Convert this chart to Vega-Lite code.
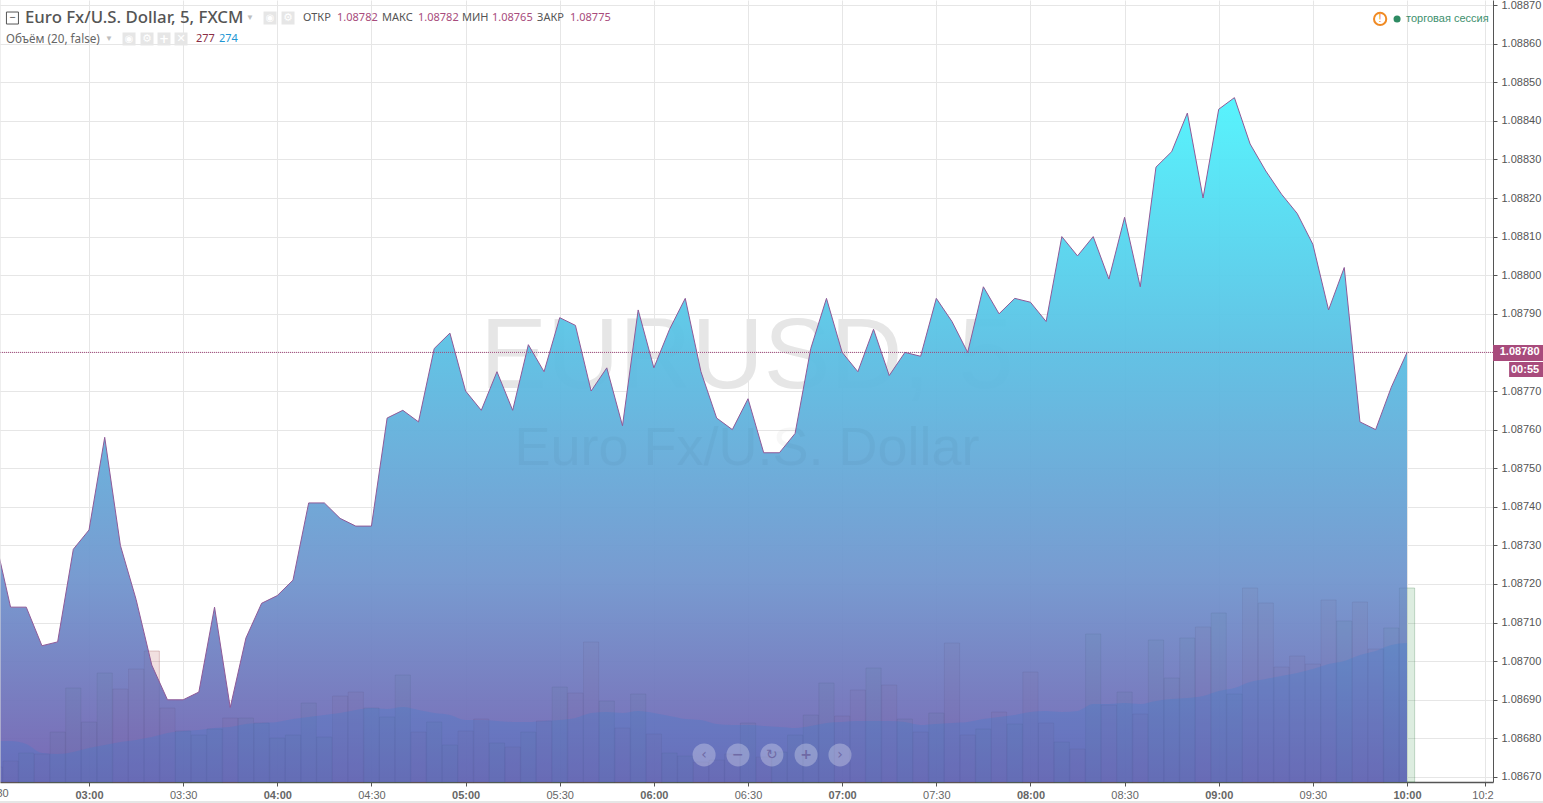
{
  "$schema": "https://vega.github.io/schema/vega-lite/v6.json",
  "autosize": {"type": "none"},
  "padding": {"left": 0, "top": 0, "right": 50, "bottom": 21},
  "width": 1493,
  "height": 782,
  "background": "#ffffff",
  "config": {"view": {"stroke": null}, "text": {"font": "Noto Sans", "fontSize": 11, "align": "left", "baseline": "middle"}},
  "data": {"values": [{}]},
  "datasets": {
    "bars": [
      {"t": "2016-03-15T02:30:00Z", "price": 1.08732, "volume": 15, "volume_ma": 41, "dir": "down"},
      {"t": "2016-03-15T02:35:00Z", "price": 1.08714, "volume": 21, "volume_ma": 41, "dir": "down"},
      {"t": "2016-03-15T02:40:00Z", "price": 1.08714, "volume": 29, "volume_ma": 38, "dir": "up"},
      {"t": "2016-03-15T02:45:00Z", "price": 1.08704, "volume": 28, "volume_ma": 29, "dir": "down"},
      {"t": "2016-03-15T02:50:00Z", "price": 1.08705, "volume": 50, "volume_ma": 28, "dir": "up"},
      {"t": "2016-03-15T02:55:00Z", "price": 1.08729, "volume": 94, "volume_ma": 30, "dir": "up"},
      {"t": "2016-03-15T03:00:00Z", "price": 1.08734, "volume": 60, "volume_ma": 34, "dir": "up"},
      {"t": "2016-03-15T03:05:00Z", "price": 1.08758, "volume": 109, "volume_ma": 37, "dir": "up"},
      {"t": "2016-03-15T03:10:00Z", "price": 1.0873, "volume": 93, "volume_ma": 40, "dir": "down"},
      {"t": "2016-03-15T03:15:00Z", "price": 1.08716, "volume": 113, "volume_ma": 42, "dir": "down"},
      {"t": "2016-03-15T03:20:00Z", "price": 1.08699, "volume": 131, "volume_ma": 45, "dir": "down"},
      {"t": "2016-03-15T03:25:00Z", "price": 1.0869, "volume": 74, "volume_ma": 49, "dir": "down"},
      {"t": "2016-03-15T03:30:00Z", "price": 1.0869, "volume": 51, "volume_ma": 51, "dir": "up"},
      {"t": "2016-03-15T03:35:00Z", "price": 1.08692, "volume": 47, "volume_ma": 52, "dir": "up"},
      {"t": "2016-03-15T03:40:00Z", "price": 1.08714, "volume": 53, "volume_ma": 54, "dir": "up"},
      {"t": "2016-03-15T03:45:00Z", "price": 1.08688, "volume": 64, "volume_ma": 55, "dir": "down"},
      {"t": "2016-03-15T03:50:00Z", "price": 1.08706, "volume": 64, "volume_ma": 58, "dir": "up"},
      {"t": "2016-03-15T03:55:00Z", "price": 1.08715, "volume": 59, "volume_ma": 59, "dir": "up"},
      {"t": "2016-03-15T04:00:00Z", "price": 1.08717, "volume": 44, "volume_ma": 60, "dir": "up"},
      {"t": "2016-03-15T04:05:00Z", "price": 1.08721, "volume": 47, "volume_ma": 63, "dir": "up"},
      {"t": "2016-03-15T04:10:00Z", "price": 1.08741, "volume": 79, "volume_ma": 65, "dir": "up"},
      {"t": "2016-03-15T04:15:00Z", "price": 1.08741, "volume": 45, "volume_ma": 67, "dir": "up"},
      {"t": "2016-03-15T04:20:00Z", "price": 1.08737, "volume": 86, "volume_ma": 69, "dir": "down"},
      {"t": "2016-03-15T04:25:00Z", "price": 1.08735, "volume": 90, "volume_ma": 72, "dir": "down"},
      {"t": "2016-03-15T04:30:00Z", "price": 1.08735, "volume": 74, "volume_ma": 74, "dir": "up"},
      {"t": "2016-03-15T04:35:00Z", "price": 1.08763, "volume": 65, "volume_ma": 73, "dir": "up"},
      {"t": "2016-03-15T04:40:00Z", "price": 1.08765, "volume": 107, "volume_ma": 75, "dir": "up"},
      {"t": "2016-03-15T04:45:00Z", "price": 1.08762, "volume": 50, "volume_ma": 72, "dir": "down"},
      {"t": "2016-03-15T04:50:00Z", "price": 1.08781, "volume": 60, "volume_ma": 69, "dir": "up"},
      {"t": "2016-03-15T04:55:00Z", "price": 1.08785, "volume": 37, "volume_ma": 67, "dir": "up"},
      {"t": "2016-03-15T05:00:00Z", "price": 1.0877, "volume": 51, "volume_ma": 62, "dir": "down"},
      {"t": "2016-03-15T05:05:00Z", "price": 1.08765, "volume": 63, "volume_ma": 62, "dir": "down"},
      {"t": "2016-03-15T05:10:00Z", "price": 1.08775, "volume": 39, "volume_ma": 61, "dir": "up"},
      {"t": "2016-03-15T05:15:00Z", "price": 1.08765, "volume": 35, "volume_ma": 60, "dir": "down"},
      {"t": "2016-03-15T05:20:00Z", "price": 1.08782, "volume": 50, "volume_ma": 60, "dir": "up"},
      {"t": "2016-03-15T05:25:00Z", "price": 1.08775, "volume": 61, "volume_ma": 61, "dir": "down"},
      {"t": "2016-03-15T05:30:00Z", "price": 1.08789, "volume": 95, "volume_ma": 62, "dir": "up"},
      {"t": "2016-03-15T05:35:00Z", "price": 1.08787, "volume": 89, "volume_ma": 64, "dir": "down"},
      {"t": "2016-03-15T05:40:00Z", "price": 1.0877, "volume": 140, "volume_ma": 69, "dir": "down"},
      {"t": "2016-03-15T05:45:00Z", "price": 1.08776, "volume": 81, "volume_ma": 70, "dir": "up"},
      {"t": "2016-03-15T05:50:00Z", "price": 1.08761, "volume": 54, "volume_ma": 69, "dir": "down"},
      {"t": "2016-03-15T05:55:00Z", "price": 1.08791, "volume": 88, "volume_ma": 71, "dir": "up"},
      {"t": "2016-03-15T06:00:00Z", "price": 1.08776, "volume": 48, "volume_ma": 69, "dir": "down"},
      {"t": "2016-03-15T06:05:00Z", "price": 1.08786, "volume": 29, "volume_ma": 66, "dir": "up"},
      {"t": "2016-03-15T06:10:00Z", "price": 1.08794, "volume": 26, "volume_ma": 63, "dir": "up"},
      {"t": "2016-03-15T06:15:00Z", "price": 1.08775, "volume": 20, "volume_ma": 62, "dir": "down"},
      {"t": "2016-03-15T06:20:00Z", "price": 1.08763, "volume": 22, "volume_ma": 58, "dir": "down"},
      {"t": "2016-03-15T06:25:00Z", "price": 1.0876, "volume": 28, "volume_ma": 57, "dir": "down"},
      {"t": "2016-03-15T06:30:00Z", "price": 1.08768, "volume": 59, "volume_ma": 57, "dir": "up"},
      {"t": "2016-03-15T06:35:00Z", "price": 1.08754, "volume": 25, "volume_ma": 56, "dir": "down"},
      {"t": "2016-03-15T06:40:00Z", "price": 1.08754, "volume": 30, "volume_ma": 55, "dir": "up"},
      {"t": "2016-03-15T06:45:00Z", "price": 1.08759, "volume": 47, "volume_ma": 54, "dir": "up"},
      {"t": "2016-03-15T06:50:00Z", "price": 1.08781, "volume": 67, "volume_ma": 56, "dir": "up"},
      {"t": "2016-03-15T06:55:00Z", "price": 1.08794, "volume": 99, "volume_ma": 59, "dir": "up"},
      {"t": "2016-03-15T07:00:00Z", "price": 1.0878, "volume": 66, "volume_ma": 60, "dir": "down"},
      {"t": "2016-03-15T07:05:00Z", "price": 1.08775, "volume": 92, "volume_ma": 61, "dir": "down"},
      {"t": "2016-03-15T07:10:00Z", "price": 1.08786, "volume": 114, "volume_ma": 61, "dir": "up"},
      {"t": "2016-03-15T07:15:00Z", "price": 1.08774, "volume": 97, "volume_ma": 61, "dir": "down"},
      {"t": "2016-03-15T07:20:00Z", "price": 1.0878, "volume": 63, "volume_ma": 60, "dir": "up"},
      {"t": "2016-03-15T07:25:00Z", "price": 1.08779, "volume": 50, "volume_ma": 57, "dir": "down"},
      {"t": "2016-03-15T07:30:00Z", "price": 1.08794, "volume": 69, "volume_ma": 58, "dir": "up"},
      {"t": "2016-03-15T07:35:00Z", "price": 1.08788, "volume": 139, "volume_ma": 59, "dir": "down"},
      {"t": "2016-03-15T07:40:00Z", "price": 1.0878, "volume": 47, "volume_ma": 60, "dir": "down"},
      {"t": "2016-03-15T07:45:00Z", "price": 1.08797, "volume": 53, "volume_ma": 63, "dir": "up"},
      {"t": "2016-03-15T07:50:00Z", "price": 1.0879, "volume": 70, "volume_ma": 65, "dir": "down"},
      {"t": "2016-03-15T07:55:00Z", "price": 1.08794, "volume": 58, "volume_ma": 67, "dir": "up"},
      {"t": "2016-03-15T08:00:00Z", "price": 1.08793, "volume": 110, "volume_ma": 70, "dir": "down"},
      {"t": "2016-03-15T08:05:00Z", "price": 1.08788, "volume": 59, "volume_ma": 71, "dir": "down"},
      {"t": "2016-03-15T08:10:00Z", "price": 1.0881, "volume": 40, "volume_ma": 70, "dir": "up"},
      {"t": "2016-03-15T08:15:00Z", "price": 1.08805, "volume": 33, "volume_ma": 71, "dir": "down"},
      {"t": "2016-03-15T08:20:00Z", "price": 1.0881, "volume": 148, "volume_ma": 78, "dir": "up"},
      {"t": "2016-03-15T08:25:00Z", "price": 1.08799, "volume": 77, "volume_ma": 78, "dir": "down"},
      {"t": "2016-03-15T08:30:00Z", "price": 1.08815, "volume": 90, "volume_ma": 79, "dir": "up"},
      {"t": "2016-03-15T08:35:00Z", "price": 1.08797, "volume": 68, "volume_ma": 78, "dir": "down"},
      {"t": "2016-03-15T08:40:00Z", "price": 1.08828, "volume": 142, "volume_ma": 81, "dir": "up"},
      {"t": "2016-03-15T08:45:00Z", "price": 1.08832, "volume": 104, "volume_ma": 83, "dir": "up"},
      {"t": "2016-03-15T08:50:00Z", "price": 1.08842, "volume": 144, "volume_ma": 84, "dir": "up"},
      {"t": "2016-03-15T08:55:00Z", "price": 1.0882, "volume": 155, "volume_ma": 86, "dir": "down"},
      {"t": "2016-03-15T09:00:00Z", "price": 1.08843, "volume": 169, "volume_ma": 91, "dir": "up"},
      {"t": "2016-03-15T09:05:00Z", "price": 1.08846, "volume": 88, "volume_ma": 94, "dir": "up"},
      {"t": "2016-03-15T09:10:00Z", "price": 1.08834, "volume": 194, "volume_ma": 100, "dir": "down"},
      {"t": "2016-03-15T09:15:00Z", "price": 1.08827, "volume": 179, "volume_ma": 103, "dir": "down"},
      {"t": "2016-03-15T09:20:00Z", "price": 1.08821, "volume": 115, "volume_ma": 106, "dir": "down"},
      {"t": "2016-03-15T09:25:00Z", "price": 1.08816, "volume": 126, "volume_ma": 109, "dir": "down"},
      {"t": "2016-03-15T09:30:00Z", "price": 1.08808, "volume": 118, "volume_ma": 113, "dir": "down"},
      {"t": "2016-03-15T09:35:00Z", "price": 1.08791, "volume": 182, "volume_ma": 118, "dir": "down"},
      {"t": "2016-03-15T09:40:00Z", "price": 1.08802, "volume": 161, "volume_ma": 121, "dir": "up"},
      {"t": "2016-03-15T09:45:00Z", "price": 1.08762, "volume": 180, "volume_ma": 127, "dir": "down"},
      {"t": "2016-03-15T09:50:00Z", "price": 1.0876, "volume": 133, "volume_ma": 131, "dir": "down"},
      {"t": "2016-03-15T09:55:00Z", "price": 1.08771, "volume": 154, "volume_ma": 137, "dir": "up"},
      {"t": "2016-03-15T10:00:00Z", "price": 1.0878, "volume": 194, "volume_ma": 139, "dir": "up"}
    ]
  },
  "resolve": {"scale": {"y": "independent"}},
  "layer": [
    {
      "mark": {"type": "text", "align": "center", "font": "Liberation Sans", "fontSize": 100, "color": "#e6e6e6", "text": "EURUSD, 5"},
      "encoding": {
        "x": {"datum": 1458023381000, "type": "temporal", "scale": {"type": "utc", "nice": false, "padding": 0, "domain": [1458009098000, 1458037644000]}, "axis": {
          "title": null, "format": "%H:%M", "tickCount": 30, "values": [1458010800000, 1458012600000, 1458014400000, 1458016200000, 1458018000000, 1458019800000, 1458021600000, 1458023400000, 1458025200000, 1458027000000, 1458028800000, 1458030600000, 1458032400000, 1458034200000, 1458036000000, 1458037500000],
          "labelExpr": "utcminutes(datum.value) == 25 ? '10:2' : utcFormat(datum.value, '%H:%M')",
          "labelFont": "Liberation Sans", "labelFontSize": 11, "labelColor": "#666666", "labelFlush": false, "labelOverlap": false, "labelAngle": 0, "labelPadding": 3,
          "labelOffset": {"condition": {"test": "utcminutes(datum.value) == 25", "value": -3}, "value": 0},
          "labelFontWeight": {"condition": {"test": "utcminutes(datum.value) == 0", "value": "bold"}, "value": "normal"},
          "tickColor": "#555555", "tickSize": 4, "domainColor": "#555555", "domainWidth": 1.5, "grid": true, "gridColor": "#e6e6e6"
        }},
        "y": {"datum": 1.0877855, "type": "quantitative", "scale": {"nice": false, "zero": false, "domain": [1.086687, 1.088713]}, "axis": {
          "orient": "right", "title": null, "format": ".5f", "tickCount": 30, "values": [1.0867, 1.0868, 1.0869, 1.087, 1.0871, 1.0872, 1.0873, 1.0874, 1.0875, 1.0876, 1.0877, 1.0878, 1.0879, 1.088, 1.0881, 1.0882, 1.0883, 1.0884, 1.0885, 1.0886, 1.0887],
          "labelFont": "Liberation Sans", "labelFontSize": 11, "labelColor": "#555555", "labelPadding": 4, "labelOverlap": false, "labelFlush": false,
          "tickColor": "#555555", "tickSize": 4, "domainColor": "#555555", "grid": true, "gridColor": "#e6e6e6"
        }}
      }
    },
    {
      "data": {"name": "bars"},
      "mark": {"type": "bar", "size": 15.2, "fillOpacity": 0.14, "strokeOpacity": 0.22, "strokeWidth": 1},
      "encoding": {
        "x": {"field": "t", "type": "temporal"},
        "y": {"field": "volume", "type": "quantitative", "scale": {"nice": false, "domain": [0, 782]}, "axis": null},
        "color": {"field": "dir", "type": "nominal", "scale": {"domain": ["up", "down"], "range": ["#3f9a4d", "#b4504e"]}, "legend": null},
        "stroke": {"field": "dir", "type": "nominal", "scale": {"domain": ["up", "down"], "range": ["#3f9a4d", "#b4504e"]}, "legend": null}
      }
    },
    {
      "layer": [
        {
          "data": {"name": "bars"},
          "mark": {"type": "area", "opacity": 0.95, "fill": {"gradient": "linear", "x1": 0, "y1": 0, "x2": 0, "y2": 1, "stops": [{"offset": 0, "color": "#4ff3fd"}, {"offset": 0.37, "color": "#5bbfe3"}, {"offset": 0.7, "color": "#7196ce"}, {"offset": 1, "color": "#7260b0"}]}},
          "encoding": {
            "x": {"field": "t", "type": "temporal"},
            "y": {"field": "price", "type": "quantitative", "scale": {"nice": false, "zero": false, "domain": [1.086687, 1.088713]}, "axis": null},
            "y2": {"datum": 1.086687}
          }
        },
        {
          "mark": {"type": "text", "align": "center", "font": "Liberation Sans", "fontSize": 54, "color": "#000000", "opacity": 0.028, "text": "Euro Fx/U.S. Dollar"},
          "encoding": {"x": {"datum": 1458023381000, "type": "temporal"}, "y": {"datum": 1.08755, "type": "quantitative"}}
        }
      ]
    },
    {
      "data": {"name": "bars"},
      "layer": [
        {
          "mark": {"type": "bar", "size": 15.2, "fillOpacity": 0.035, "stroke": "#444466", "strokeOpacity": 0.07, "strokeWidth": 1},
          "encoding": {
            "x": {"field": "t", "type": "temporal"},
            "y": {"field": "volume", "type": "quantitative", "scale": {"nice": false, "domain": [0, 782]}, "axis": null},
            "color": {"field": "dir", "type": "nominal", "scale": {"domain": ["up", "down"], "range": ["#2b6a55", "#a0505a"]}, "legend": null}
          }
        },
        {
          "mark": {"type": "area", "interpolate": "monotone", "color": "#2f80d2", "opacity": 0.22},
          "encoding": {
            "x": {"field": "t", "type": "temporal"},
            "y": {"field": "volume_ma", "type": "quantitative", "scale": {"nice": false, "domain": [0, 782]}, "axis": null}
          }
        }
      ]
    },
    {
      "layer": [
        {
          "data": {"name": "bars"},
          "mark": {"type": "line", "color": "#8f5a98", "strokeWidth": 1},
          "encoding": {
            "x": {"field": "t", "type": "temporal"},
            "y": {"field": "price", "type": "quantitative", "scale": {"nice": false, "zero": false, "domain": [1.086687, 1.088713]}, "axis": null}
          }
        },
        {
          "mark": {"type": "rule", "color": "#a3487c", "strokeDash": [1, 1], "strokeWidth": 1},
          "encoding": {"y": {"datum": 1.0878, "type": "quantitative"}}
        },
        {
          "mark": {"type": "rule", "color": "#dddddd", "strokeWidth": 1},
          "encoding": {"x": {"datum": 1458009098000, "type": "temporal"}}
        },
        {
          "mark": {"type": "rule", "color": "#e6e6e6", "strokeWidth": 2},
          "encoding": {"x": {"datum": 1458009098000, "type": "temporal"}, "x2": {"datum": 1458038602000}, "y": {"datum": 1.0866352, "type": "quantitative"}}
        },
        {
          "mark": {"type": "text", "align": "center", "font": "Liberation Sans", "color": "#666666", "text": "02:30"},
          "encoding": {"x": {"datum": 1458009000000, "type": "temporal"}, "y": {"datum": 1.086656, "type": "quantitative"}}
        },
        {
          "mark": {"type": "rect", "color": "#a84b7c"},
          "encoding": {"x": {"datum": 1458037644000, "type": "temporal"}, "x2": {"datum": 1458038602000}, "y": {"datum": 1.0878192, "type": "quantitative"}, "y2": {"datum": 1.0877777}}
        },
        {
          "mark": {"type": "rect", "color": "#a84b7c"},
          "encoding": {"x": {"datum": 1458037952000, "type": "temporal"}, "x2": {"datum": 1458038602000}, "y": {"datum": 1.0877751, "type": "quantitative"}, "y2": {"datum": 1.0877363}}
        },
        {
          "mark": {"type": "text", "align": "center", "font": "Liberation Sans", "fontWeight": "bold", "color": "#ffffff", "text": "1.08780"},
          "encoding": {"x": {"datum": 1458038153000, "type": "temporal"}, "y": {"datum": 1.0878, "type": "quantitative"}}
        },
        {
          "mark": {"type": "text", "align": "center", "font": "Liberation Sans", "fontWeight": "bold", "color": "#ffffff", "text": "00:55"},
          "encoding": {"x": {"datum": 1458038257000, "type": "temporal"}, "y": {"datum": 1.0877544, "type": "quantitative"}}
        },
        {
          "mark": {"type": "point", "shape": "square", "size": 144, "stroke": "#555555", "strokeWidth": 1, "filled": false, "opacity": 1},
          "encoding": {"x": {"datum": 1458009336000, "type": "temporal"}, "y": {"datum": 1.0886663, "type": "quantitative"}}
        },
        {
          "mark": {"type": "text", "align": "center", "color": "#555555", "text": "−"},
          "encoding": {"x": {"datum": 1458009336000, "type": "temporal"}, "y": {"datum": 1.0886663, "type": "quantitative"}}
        },
        {
          "mark": {"type": "text", "fontSize": 16.8, "fontWeight": 500, "color": "#555555", "text": "Euro Fx/U.S. Dollar, 5, FXCM"},
          "encoding": {"x": {"datum": 1458009576000, "type": "temporal"}, "y": {"datum": 1.0886663, "type": "quantitative"}}
        },
        {
          "mark": {"type": "text", "align": "center", "fontSize": 8, "color": "#bdbdbd", "text": "▼"},
          "encoding": {"x": {"datum": 1458013878000, "type": "temporal"}, "y": {"datum": 1.0886663, "type": "quantitative"}}
        },
        {
          "mark": {"type": "point", "shape": "square", "size": 169, "filled": true, "color": "#e6e6e6", "opacity": 1},
          "encoding": {"x": {"datum": 1458014261000, "type": "temporal"}, "y": {"datum": 1.0886663, "type": "quantitative"}}
        },
        {
          "mark": {"type": "text", "align": "center", "font": "DejaVu Sans", "fontSize": 10, "color": "#ffffff", "text": "◉"},
          "encoding": {"x": {"datum": 1458014261000, "type": "temporal"}, "y": {"datum": 1.0886663, "type": "quantitative"}}
        },
        {
          "mark": {"type": "point", "shape": "square", "size": 169, "filled": true, "color": "#e6e6e6", "opacity": 1},
          "encoding": {"x": {"datum": 1458014605000, "type": "temporal"}, "y": {"datum": 1.0886663, "type": "quantitative"}}
        },
        {
          "mark": {"type": "text", "align": "center", "font": "DejaVu Sans", "fontSize": 11, "color": "#ffffff", "text": "⚙"},
          "encoding": {"x": {"datum": 1458014605000, "type": "temporal"}, "y": {"datum": 1.0886663, "type": "quantitative"}}
        },
        {"mark": {"type": "text", "color": "#555555", "text": "ОТКР"}, "encoding": {"x": {"datum": 1458014892000, "type": "temporal"}, "y": {"datum": 1.0886663, "type": "quantitative"}}},
        {"mark": {"type": "text", "color": "#a84b7c", "text": "1.08782"}, "encoding": {"x": {"datum": 1458015542000, "type": "temporal"}, "y": {"datum": 1.0886663, "type": "quantitative"}}},
        {"mark": {"type": "text", "color": "#555555", "text": "МАКС"}, "encoding": {"x": {"datum": 1458016402000, "type": "temporal"}, "y": {"datum": 1.0886663, "type": "quantitative"}}},
        {"mark": {"type": "text", "color": "#a84b7c", "text": "1.08782"}, "encoding": {"x": {"datum": 1458017090000, "type": "temporal"}, "y": {"datum": 1.0886663, "type": "quantitative"}}},
        {"mark": {"type": "text", "color": "#555555", "text": "МИН"}, "encoding": {"x": {"datum": 1458017932000, "type": "temporal"}, "y": {"datum": 1.0886663, "type": "quantitative"}}},
        {"mark": {"type": "text", "color": "#a84b7c", "text": "1.08765"}, "encoding": {"x": {"datum": 1458018505000, "type": "temporal"}, "y": {"datum": 1.0886663, "type": "quantitative"}}},
        {"mark": {"type": "text", "color": "#555555", "text": "ЗАКР"}, "encoding": {"x": {"datum": 1458019366000, "type": "temporal"}, "y": {"datum": 1.0886663, "type": "quantitative"}}},
        {"mark": {"type": "text", "color": "#a84b7c", "text": "1.08775"}, "encoding": {"x": {"datum": 1458019997000, "type": "temporal"}, "y": {"datum": 1.0886663, "type": "quantitative"}}},
        {"mark": {"type": "text", "fontSize": 11.7, "color": "#666666", "text": "Объём (20, false)"}, "encoding": {"x": {"datum": 1458009213000, "type": "temporal"}, "y": {"datum": 1.088612, "type": "quantitative"}}},
        {
          "mark": {"type": "text", "align": "center", "fontSize": 8, "color": "#bdbdbd", "text": "▼"},
          "encoding": {"x": {"datum": 1458011182000, "type": "temporal"}, "y": {"datum": 1.088612, "type": "quantitative"}}
        },
        {"mark": {"type": "point", "shape": "square", "size": 169, "filled": true, "color": "#e6e6e6", "opacity": 1}, "encoding": {"x": {"datum": 1458011565000, "type": "temporal"}, "y": {"datum": 1.088612, "type": "quantitative"}}},
        {"mark": {"type": "text", "align": "center", "font": "DejaVu Sans", "fontSize": 10, "color": "#ffffff", "text": "◉"}, "encoding": {"x": {"datum": 1458011565000, "type": "temporal"}, "y": {"datum": 1.088612, "type": "quantitative"}}},
        {"mark": {"type": "point", "shape": "square", "size": 169, "filled": true, "color": "#e6e6e6", "opacity": 1}, "encoding": {"x": {"datum": 1458011909000, "type": "temporal"}, "y": {"datum": 1.088612, "type": "quantitative"}}},
        {"mark": {"type": "text", "align": "center", "font": "DejaVu Sans", "fontSize": 11, "color": "#ffffff", "text": "⚙"}, "encoding": {"x": {"datum": 1458011909000, "type": "temporal"}, "y": {"datum": 1.088612, "type": "quantitative"}}},
        {"mark": {"type": "point", "shape": "square", "size": 169, "filled": true, "color": "#e6e6e6", "opacity": 1}, "encoding": {"x": {"datum": 1458012234000, "type": "temporal"}, "y": {"datum": 1.088612, "type": "quantitative"}}},
        {"mark": {"type": "text", "align": "center", "font": "DejaVu Sans", "fontSize": 12, "fontWeight": "bold", "color": "#ffffff", "text": "+"}, "encoding": {"x": {"datum": 1458012234000, "type": "temporal"}, "y": {"datum": 1.088612, "type": "quantitative"}}},
        {"mark": {"type": "point", "shape": "square", "size": 169, "filled": true, "color": "#e6e6e6", "opacity": 1}, "encoding": {"x": {"datum": 1458012559000, "type": "temporal"}, "y": {"datum": 1.088612, "type": "quantitative"}}},
        {"mark": {"type": "text", "align": "center", "font": "DejaVu Sans", "fontSize": 11, "fontWeight": "bold", "color": "#ffffff", "text": "✕"}, "encoding": {"x": {"datum": 1458012559000, "type": "temporal"}, "y": {"datum": 1.088612, "type": "quantitative"}}},
        {"mark": {"type": "text", "color": "#8a2d45", "text": "277"}, "encoding": {"x": {"datum": 1458012846000, "type": "temporal"}, "y": {"datum": 1.088612, "type": "quantitative"}}},
        {"mark": {"type": "text", "color": "#2196d3", "text": "274"}, "encoding": {"x": {"datum": 1458013286000, "type": "temporal"}, "y": {"datum": 1.088612, "type": "quantitative"}}},
        {"mark": {"type": "point", "shape": "circle", "size": 150, "stroke": "#f08a24", "strokeWidth": 2, "filled": false, "opacity": 1}, "encoding": {"x": {"datum": 1458035486000, "type": "temporal"}, "y": {"datum": 1.088664, "type": "quantitative"}}},
        {"mark": {"type": "text", "align": "center", "font": "Liberation Sans", "fontSize": 11, "color": "#f08a24", "text": "!"}, "encoding": {"x": {"datum": 1458035486000, "type": "temporal"}, "y": {"datum": 1.088664, "type": "quantitative"}}},
        {"mark": {"type": "point", "shape": "circle", "size": 50, "filled": true, "color": "#2e8b63", "opacity": 1}, "encoding": {"x": {"datum": 1458035810000, "type": "temporal"}, "y": {"datum": 1.088664, "type": "quantitative"}}},
        {"mark": {"type": "text", "font": "Liberation Sans", "color": "#3d8f6d", "text": "торговая сессия"}, "encoding": {"x": {"datum": 1458035982000, "type": "temporal"}, "y": {"datum": 1.088664, "type": "quantitative"}}},
        {"mark": {"type": "point", "shape": "circle", "size": 530, "filled": true, "color": "#ffffff", "opacity": 0.28}, "encoding": {"x": {"datum": 1458022560000, "type": "temporal"}, "y": {"datum": 1.086757, "type": "quantitative"}}},
        {"mark": {"type": "text", "align": "center", "font": "DejaVu Sans", "fontSize": 14, "color": "#6f6aa6", "text": "‹"}, "encoding": {"x": {"datum": 1458022560000, "type": "temporal"}, "y": {"datum": 1.086757, "type": "quantitative"}}},
        {"mark": {"type": "point", "shape": "circle", "size": 530, "filled": true, "color": "#ffffff", "opacity": 0.28}, "encoding": {"x": {"datum": 1458023208000, "type": "temporal"}, "y": {"datum": 1.086757, "type": "quantitative"}}},
        {"mark": {"type": "text", "align": "center", "font": "DejaVu Sans", "fontSize": 14, "fontWeight": "bold", "color": "#6f6aa6", "text": "−"}, "encoding": {"x": {"datum": 1458023208000, "type": "temporal"}, "y": {"datum": 1.086757, "type": "quantitative"}}},
        {"mark": {"type": "point", "shape": "circle", "size": 530, "filled": true, "color": "#ffffff", "opacity": 0.28}, "encoding": {"x": {"datum": 1458023856000, "type": "temporal"}, "y": {"datum": 1.086757, "type": "quantitative"}}},
        {"mark": {"type": "text", "align": "center", "font": "DejaVu Sans", "fontSize": 14, "color": "#6f6aa6", "text": "↻"}, "encoding": {"x": {"datum": 1458023856000, "type": "temporal"}, "y": {"datum": 1.086757, "type": "quantitative"}}},
        {"mark": {"type": "point", "shape": "circle", "size": 530, "filled": true, "color": "#ffffff", "opacity": 0.28}, "encoding": {"x": {"datum": 1458024510000, "type": "temporal"}, "y": {"datum": 1.086757, "type": "quantitative"}}},
        {"mark": {"type": "text", "align": "center", "font": "DejaVu Sans", "fontSize": 14, "fontWeight": "bold", "color": "#6f6aa6", "text": "+"}, "encoding": {"x": {"datum": 1458024510000, "type": "temporal"}, "y": {"datum": 1.086757, "type": "quantitative"}}},
        {"mark": {"type": "point", "shape": "circle", "size": 530, "filled": true, "color": "#ffffff", "opacity": 0.28}, "encoding": {"x": {"datum": 1458025158000, "type": "temporal"}, "y": {"datum": 1.086757, "type": "quantitative"}}},
        {"mark": {"type": "text", "align": "center", "font": "DejaVu Sans", "fontSize": 14, "color": "#6f6aa6", "text": "›"}, "encoding": {"x": {"datum": 1458025158000, "type": "temporal"}, "y": {"datum": 1.086757, "type": "quantitative"}}}
      ]
    }
  ]
}
